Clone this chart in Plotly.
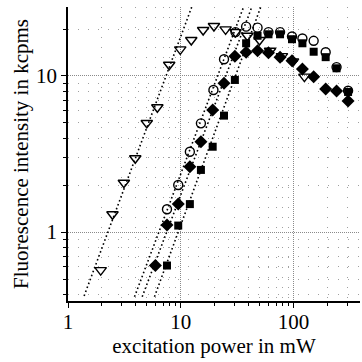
import numpy as np
import plotly.graph_objects as go

# open down-triangles
tri_x = [1.95, 2.48, 3.13, 3.95, 5.0, 6.2, 7.9, 9.9, 12.4, 15.8, 19.7, 25, 30.6, 39, 50, 62, 79, 99, 125]
tri_y = [0.57, 1.30, 2.07, 2.97, 5.0, 6.3, 11.8, 14.8, 17.0, 19.7, 20.9, 19.9, 19.1, 18.1, 17.0, 14.5, 13.4, 12.4, 9.9]
# open circles
circ_x = [7.55, 9.5, 12.05, 15.1, 19.5, 24.2, 30.6, 38, 48, 60, 76, 97, 120, 151, 193, 241, 305]
circ_y = [1.40, 2.0, 3.27, 4.97, 8.13, 12.8, 19.1, 20.7, 20.4, 19.1, 19.1, 17.9, 17.4, 16.8, 14.2, 11.4, 8.05]
# filled squares
sq_x = [7.55, 9.5, 12.05, 15.1, 19.2, 24.2, 30.2, 38, 48, 60, 76, 97, 120, 151, 193, 241, 305]
sq_y = [0.61, 1.10, 1.51, 2.5, 3.52, 5.57, 9.43, 16.2, 18.1, 18.5, 18.5, 17.2, 16.2, 14.3, 13.2, 11.2, 7.9]
# filled diamonds
dia_x = [5.96, 7.55, 9.5, 12.05, 15.1, 19.2, 24.2, 30.2, 38, 48, 60, 76, 97, 120, 151, 193, 241, 305]
dia_y = [0.61, 1.11, 1.51, 2.62, 3.79, 6.05, 8.98, 13.4, 14.2, 14.5, 14.1, 13.2, 12.5, 11.1, 9.9, 8.26, 8.0, 6.9]

# power-law fit lines: log10(y) = icpt + slope*log10(x)
fit_slope = [1.94, 1.92, 1.91, 1.97]
fit_icpt = [-0.687, -1.548, -1.672, -1.926]
fit_xmin = [1.39, 3.89, 4.55, 5.85]
fit_xmax = [20, 40, 45, 55]

FONT = "Liberation Serif"
fig = go.Figure()

for s, b, x0, x1 in zip(fit_slope, fit_icpt, fit_xmin, fit_xmax):
    lx = np.linspace(np.log10(x0), np.log10(x1), 50)
    fig.add_trace(go.Scatter(x=10 ** lx, y=10 ** (b + s * lx), mode="lines",
                             line=dict(color="black", width=1.6, dash="1.6px,2.6px"),
                             hoverinfo="skip", showlegend=False))

fig.add_trace(go.Scatter(x=sq_x, y=sq_y, mode="markers",
                         marker=dict(symbol="square", size=8, color="black"), showlegend=False))
fig.add_trace(go.Scatter(x=dia_x, y=dia_y, mode="markers",
                         marker=dict(symbol="diamond", size=10, color="black"), showlegend=False))
fig.add_trace(go.Scatter(x=circ_x, y=circ_y, mode="markers",
                         marker=dict(symbol="circle-open", size=9, color="black",
                                     line=dict(width=1.4, color="black")), showlegend=False))
fig.add_trace(go.Scatter(x=tri_x, y=tri_y, mode="markers",
                         marker=dict(symbol="triangle-down-open", size=10, color="black",
                                     line=dict(width=1.4, color="black")), showlegend=False))

axis_common = dict(
    type="log", showline=True, linecolor="black", linewidth=1.6,
    ticks="outside", ticklen=5, tickwidth=1.3, tickcolor="black",
    tickmode="linear", tick0=0, dtick=1,
    showgrid=True, gridcolor="#8a8a8a", gridwidth=1, griddash="1px,1px",
    minor=dict(ticks="outside", ticklen=3, tickwidth=1, tickcolor="black",
               dtick="D1", showgrid=True, gridcolor="#a0a0a0", gridwidth=1,
               griddash="1px,9px"),
    zeroline=False, tickfont=dict(family=FONT, size=21, color="black"),
)

fig.update_layout(
    width=362, height=362,
    margin=dict(l=68, r=2, t=7, b=61),
    paper_bgcolor="white", plot_bgcolor="white",
    xaxis=dict(axis_common, range=[0, 2.59], ticklabelstandoff=-4,
               title=dict(text="excitation power in mW", standoff=3,
                          font=dict(family=FONT, size=21, color="black"))),
    yaxis=dict(axis_common, range=[-0.442, 1.442],
               title=dict(text="Fluorescence intensity in kcpms", standoff=2,
                          font=dict(family=FONT, size=21, color="black"))),
)

fig.write_html("out.html", config={"displayModeBar": False},
               post_script="document.body.style.margin='0';")
